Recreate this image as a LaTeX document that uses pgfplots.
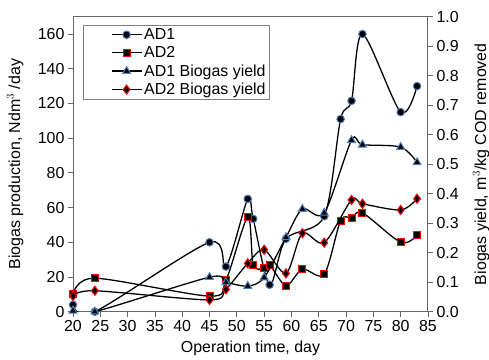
\documentclass[border=0pt]{standalone}
\usepackage{pgfplots}
\pgfplotsset{compat=1.18}
\usepackage{fontspec}
\setmainfont{Liberation Sans}
\definecolor{mblue}{HTML}{4F81BD}
\definecolor{mred}{HTML}{FF0000}
\begin{document}
\begin{tikzpicture}
\path[use as bounding box] (-73bp,-48.3bp) rectangle (416bp,311.7bp);
\pgfplotsset{
  common/.style={scale only axis, width=355bp, height=295bp,
    xmin=20, xmax=85, xtick={20,25,...,85},
    tick align=outside, major tick length=5bp,
    tick style={black!60, line width=0.8pt},
    axis line style={black!60, line width=1pt},
    tick label style={font=\fontsize{16}{18}\selectfont},
    /pgf/number format/assume math mode=true},
  ad1/.style={black, line width=1.3pt, smooth, mark=*, mark size=3.8pt,
    mark options={solid, fill=black, draw=mblue, line width=1pt}},
  ad2/.style={black, line width=1.3pt, smooth, mark=square*, mark size=3.5pt,
    mark options={solid, fill=black, draw=mred, line width=1pt}},
  ad1y/.style={black, line width=1.3pt, smooth, mark=triangle*, mark size=4.6pt,
    mark options={solid, fill=black, draw=mblue, line width=1pt}},
  ad2y/.style={black, line width=1.3pt, smooth, mark=diamond*, mark size=4.6pt,
    mark options={solid, fill=black, draw=mred, line width=1pt}},
}
\begin{axis}[common, ymin=0, ymax=170, ytick={0,20,40,60,80,100,120,140,160},
  tick pos=left,
  xlabel={Operation time, day},
  ylabel={Biogas production, Ndm$^3$ /day},
  every axis x label/.style={at={(axis description cs:0.5,-0.125)}, anchor=center, font=\fontsize{16}{18}\selectfont},
  every axis y label/.style={at={(axis description cs:-0.163,0.5)}, rotate=90, anchor=center, font=\fontsize{16}{18}\selectfont},
]
\addplot[ad1] coordinates {(20,4) (24,0) (45,40) (48,26) (52,65) (53,53.5) (56,15.5) (59,42) (66,55) (69,111) (71,121.5) (73,160) (80,115) (83,130)};
\addplot[ad2] coordinates {(20,10) (24,19.3) (45,9) (48,18) (52,54.5) (53,27) (55,25) (56,27) (59,15) (62,24.5) (66,21.6) (69,52.5) (71,54) (73,57) (80,40) (83,44)};
\end{axis}
\begin{axis}[common, ymin=0, ymax=1,
  ytick={0,0.1,0.2,0.3,0.4,0.5,0.6,0.7,0.8,0.9,1.0},
  axis y line*=right, axis x line=none,
  ylabel={Biogas yield, m$^3$/kg COD removed},
  every axis y label/.style={at={(axis description cs:1.15,0.5)}, rotate=90, anchor=center, font=\fontsize{16}{18}\selectfont},
  legend style={at={(axis description cs:0.028,0.973)}, anchor=north west,
    draw=black!50, line width=0.8pt, font=\fontsize{16}{18}\selectfont,
    inner sep=1.5pt, row sep=1.5pt, cells={anchor=west}},
  legend image code/.code={\path (0cm,0cm); \draw[mark repeat=2,mark phase=2,#1] plot coordinates {(0.92cm,0cm) (1.45cm,0cm) (1.98cm,0cm)};},
  y tick label style={/pgf/number format/.cd, fixed, fixed zerofill, precision=1},
]
\addlegendimage{ad1}\addlegendentry{AD1}
\addlegendimage{ad2}\addlegendentry{AD2}
\addplot[ad1y] coordinates {(20,0.003) (24,0) (45,0.117) (48,0.1) (52,0.087) (55,0.116) (59,0.252) (62,0.348) (66,0.335) (71,0.581) (73,0.566) (80,0.558) (83,0.506)};
\addlegendentry{AD1 Biogas yield}
\addplot[ad2y] coordinates {(20,0.053) (24,0.071) (45,0.04) (48,0.076) (52,0.164) (55,0.21) (59,0.13) (62,0.266) (66,0.234) (71,0.379) (73,0.366) (80,0.345) (83,0.383)};
\addlegendentry{AD2 Biogas yield}
\end{axis}
\end{tikzpicture}
\end{document}
